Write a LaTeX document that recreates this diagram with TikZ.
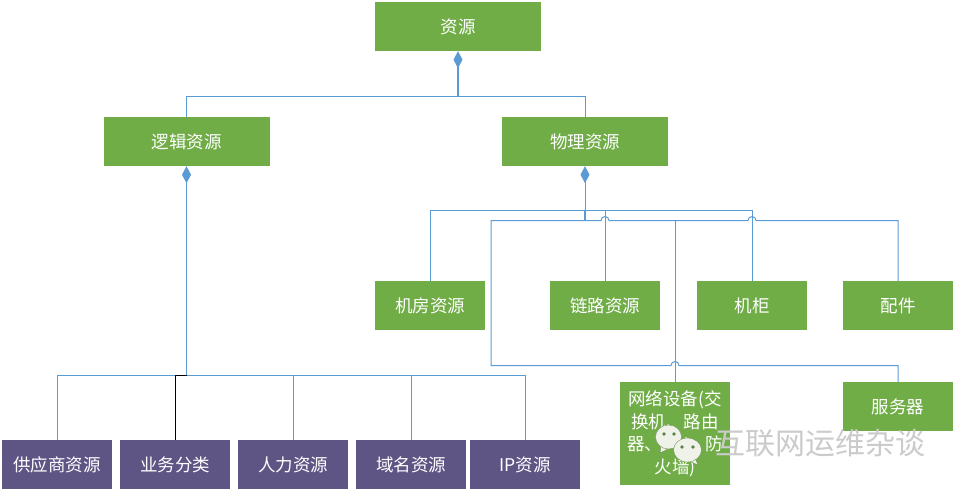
\documentclass[tikz,border=0pt]{standalone}
\usepackage{fontspec}
\setmainfont{Noto Sans CJK SC}
\usepackage{xcolor}
\usepackage{tikz}
\usetikzlibrary{calc, arrows.meta}
\definecolor{boxgreen}{HTML}{70AD47}
\definecolor{boxpurple}{HTML}{5F5585}
\definecolor{linkblue}{HTML}{5B9BD5}
\definecolor{bubble}{HTML}{EEF2E8}
\definecolor{bubbleedge}{HTML}{5E7F46}
\definecolor{markgray}{HTML}{CBCBCB}
\tikzset{
  greenbox/.style={fill=boxgreen, text=white, minimum width=110pt, minimum height=49pt, inner sep=2pt, align=center, font=\fontsize{17.5}{22.5}\selectfont},
  widebox/.style={greenbox, minimum width=166pt},
  purplebox/.style={greenbox, fill=boxpurple},
  link/.style={draw=linkblue, line width=1pt},
  trunk/.style={draw=linkblue, line width=1.8pt},
  owner/.style={{Diamond[width=9pt,length=17pt]}-, draw=linkblue, fill=linkblue},
  chatbubble/.style={fill=bubble, draw=bubbleedge, line width=.3pt},
  chateye/.style={fill=bubbleedge}
}
\begin{document}
\begin{tikzpicture}[x=1pt,y=-1pt]
\useasboundingbox (0,0) rectangle (955,492);
% top level
\node [widebox] (ziyuan) at (458,26.5) {资源};
\node [widebox] (luoji) at (186.5,141.5) {逻辑资源};
\node [widebox] (wuli) at (585,141.5) {物理资源};
% physical side
\node [greenbox] (jifang) at (430,305.5) {机房资源};
\node [greenbox] (lianlu) at (605,305.5) {链路资源};
\node [greenbox] (jigui) at (752,305.5) {机柜};
\node [greenbox] (peijian) at (898,305.5) {配件};
\node [greenbox, minimum height=103pt, inner sep=0pt] (wangluo) at (675,433.5) {网络设备(交\\换机、路由\\器、FW、防\\火墙)};
\node [greenbox] (fuwuqi) at (898,406.5) {服务器};
% logical side
\node [purplebox] (gongying) at (57,464.5) {供应商资源};
\node [purplebox] (yewu) at (175,464.5) {业务分类};
\node [purplebox] (renli) at (293,464.5) {人力资源};
\node [purplebox] (yuming) at (411,464.5) {域名资源};
\node [purplebox] (ip) at (525,464.5) {IP资源};
% junctions
\coordinate (topbus) at (458,96.5);
\coordinate (wulibus) at (585,210.5);
\coordinate (wulibustwo) at (585,220.5);
\coordinate (servbus) at (491,365.5);
\coordinate (luojibus) at (186.5,375.5);
% resource to its two kinds
\draw [link] (luoji.north) |- (topbus) -| (wuli.north);
\draw [trunk] (topbus) -- ($(ziyuan.south)+(0,10)$);
\draw [link, owner] (ziyuan.south) -- (topbus);
% physical resources
\draw [link] (jifang.north) |- (wulibus) -- (wulibus -| jigui) -- (jigui.north);
\draw [link] (lianlu.north) -- (lianlu.north |- wulibus);
\draw [trunk] (wulibus) -- (wulibustwo);
\draw [link, owner] (wuli.south) -- (wulibus);
\draw [link] (wulibustwo) -- (wulibustwo -| servbus) -- (servbus) -- ($(servbus -| wangluo)+(-4,0)$) arc (180:360:4) -- (servbus -| fuwuqi) -- (fuwuqi.north);
\draw [link] (wulibustwo) -- ($(wulibustwo -| lianlu)+(-4,0)$) arc (180:360:4) -- ($(wulibustwo -| jigui)+(-4,0)$) arc (180:360:4) -- (wulibustwo -| peijian) -- (peijian.north);
\draw [trunk] (wulibustwo) -- ($(wulibustwo -| lianlu)+(-4,0)$);
\draw [trunk] ($(wulibustwo -| lianlu)+(4,0)$) -- (wulibustwo -| wangluo);
\draw [link] (wulibustwo -| wangluo) -- (wangluo.north);
% logical resources
\draw [link, owner] (luoji.south) -- (luojibus);
\draw [link] (gongying.north) |- (luojibus);
\draw [link] (ip.north) |- (luojibus);
\draw [link] (renli.north) -- (renli.north |- luojibus);
\draw [link] (yuming.north) -- (yuming.north |- luojibus);
\draw [draw=black, line width=1pt] (yewu.north) |- (luojibus);
% watermark
\draw [chatbubble] (661,445) -- (660,453) -- (668,449) -- cycle;
\fill [bubble] (668.5,437) ellipse (13 and 12);
\draw [chatbubble] (668.5,437) ellipse (13 and 12);
\fill [chateye] (664,434) circle (1.8);
\fill [chateye] (674,434) circle (1.8);
\draw [chatbubble] (695,458) -- (698,465) -- (689,461) -- cycle;
\draw [chatbubble] (687.5,450) ellipse (14 and 12);
\fill [chateye] (682,447) circle (1.8);
\fill [chateye] (693,447) circle (1.8);
\node [text=markgray, font=\fontsize{30}{30}\selectfont, inner sep=0pt] (shuiyin) at (820,443) {互联网运维杂谈};
\end{tikzpicture}
\end{document}
